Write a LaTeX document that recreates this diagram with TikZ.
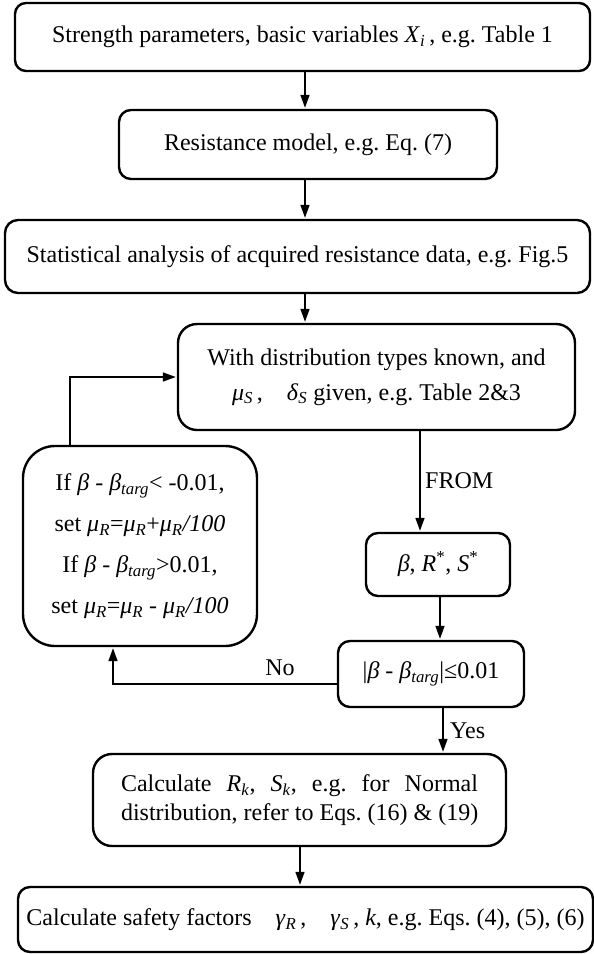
\documentclass[tikz,border=0pt]{standalone}
\usepackage{fontspec}
\setmainfont{Liberation Serif}
\usetikzlibrary{arrows.meta,calc}
\tikzset{
  box/.style={draw, line width=2.4pt, rounded corners=#1, inner sep=0pt, align=center},
  box/.default=11pt,
  fnt/.style={font=\fontsize{24}{#1}\selectfont},
  fnt/.default=29pt,
  arr/.style={line width=1.6pt, -{Triangle[length=13pt,width=9pt]}, shorten >=1pt},
  lbl/.style={font=\fontsize{24}{29}\selectfont, inner sep=0pt}
}
\frenchspacing
\newcommand\bt{\textit{β}}
\newcommand\sbi[1]{\textsubscript{\textit{#1}}}
\begin{document}
\begin{tikzpicture}[x=1pt,y=-1pt]
\useasboundingbox (0,0) rectangle (594,954);
% x positions of connectors
\coordinate (xa) at (305,0);
\coordinate (xf) at (420,0);
\coordinate (x5) at (440,0);
\coordinate (xy) at (443,0);
\coordinate (x7) at (300,0);
\coordinate (xn) at (113,0);
\coordinate (xl) at (70,0);
\coordinate (yno) at (0,684);
% boxes
\node[box=11pt, fnt, minimum width=575pt, minimum height=68pt] (b1) at (302.5,37)
  {Strength parameters, basic variables \textit{X}\sbi{i}\,, e.g. Table 1};
\node[box=12pt, fnt, minimum width=378pt, minimum height=69pt] (b2) at (308,144.5)
  {Resistance model, e.g. Eq. (7)};
\node[box=13pt, fnt, minimum width=585pt, minimum height=73pt] (b3) at (297.5,256.5)
  {Statistical analysis of acquired resistance data, e.g. Fig.5};
\node[box=19pt, fnt=35pt, minimum width=397pt, minimum height=106pt] (b4) at (376.5,377)
  {With distribution types known, and\\
   \textit{μ}\sbi{S}\,,\quad \textit{δ}\sbi{S} given, e.g. Table 2\&3};
\node[box=32pt, fnt=41pt, minimum width=234pt, minimum height=200pt] (bl) at (140,546)
  {If \bt{} - \bt\sbi{targ}< -0.01,\\
   set \textit{μ}\sbi{R}=\textit{μ}\sbi{R}+\textit{μ}\sbi{R}\textit{/100}\\
   If \bt{} - \bt\sbi{targ}>0.01,\\
   set \textit{μ}\sbi{R}=\textit{μ}\sbi{R} - \textit{μ}\sbi{R}\textit{/100}};
\node[box=12pt, fnt, minimum width=144pt, minimum height=63pt] (b5) at (438,564.5)
  {\bt, \textit{R}\textsuperscript{*}, \textit{S}\textsuperscript{*}};
\node[box=12pt, fnt, minimum width=186pt, minimum height=66pt] (b6) at (431,674)
  {|\bt{} - \bt\sbi{targ}|≤0.01};
\node[box=19pt, fnt=29pt, minimum width=413pt, minimum height=92pt] (b7) at (299.5,800)
  {\makebox[357pt][s]{Calculate \textit{R}\sbi{k}, \textit{S}\sbi{k}, e.g. for Normal}\\
   \makebox[357pt][l]{distribution, refer to Eqs. (16) \& (19)}};
\node[box=12pt, fnt, minimum width=575pt, minimum height=65pt] (b8) at (305.5,919.5)
  {Calculate safety factors\quad\textit{γ}\sbi{R}\,,\quad\textit{γ}\sbi{S}\,, \textit{k}, e.g. Eqs. (4), (5), (6)};
% labels
\node[lbl, anchor=west] (from) at (425,481) {FROM};
\node[lbl] (no) at (280,668) {No};
\node[lbl, anchor=west] (yes) at (450,731) {Yes};
% connectors
\draw[arr] (b1.south -| xa) -- (b2.north -| xa);
\draw[arr] (b2.south -| xa) -- (b3.north -| xa);
\draw[arr] (b3.south -| xa) -- (b4.north -| xa);
\draw[arr] (b4.south -| xf) -- (b5.north -| xf);
\draw[arr] (b5.south -| x5) -- (b6.north -| x5);
\draw[arr] (b6.south -| xy) -- (b7.north -| xy);
\draw[arr] (b7.south -| x7) -- (b8.north -| x7);
\draw[arr] (b6.west |- yno) -| (bl.south -| xn);
\draw[arr] (bl.north -| xl) |- (b4.west);
\end{tikzpicture}
\end{document}
